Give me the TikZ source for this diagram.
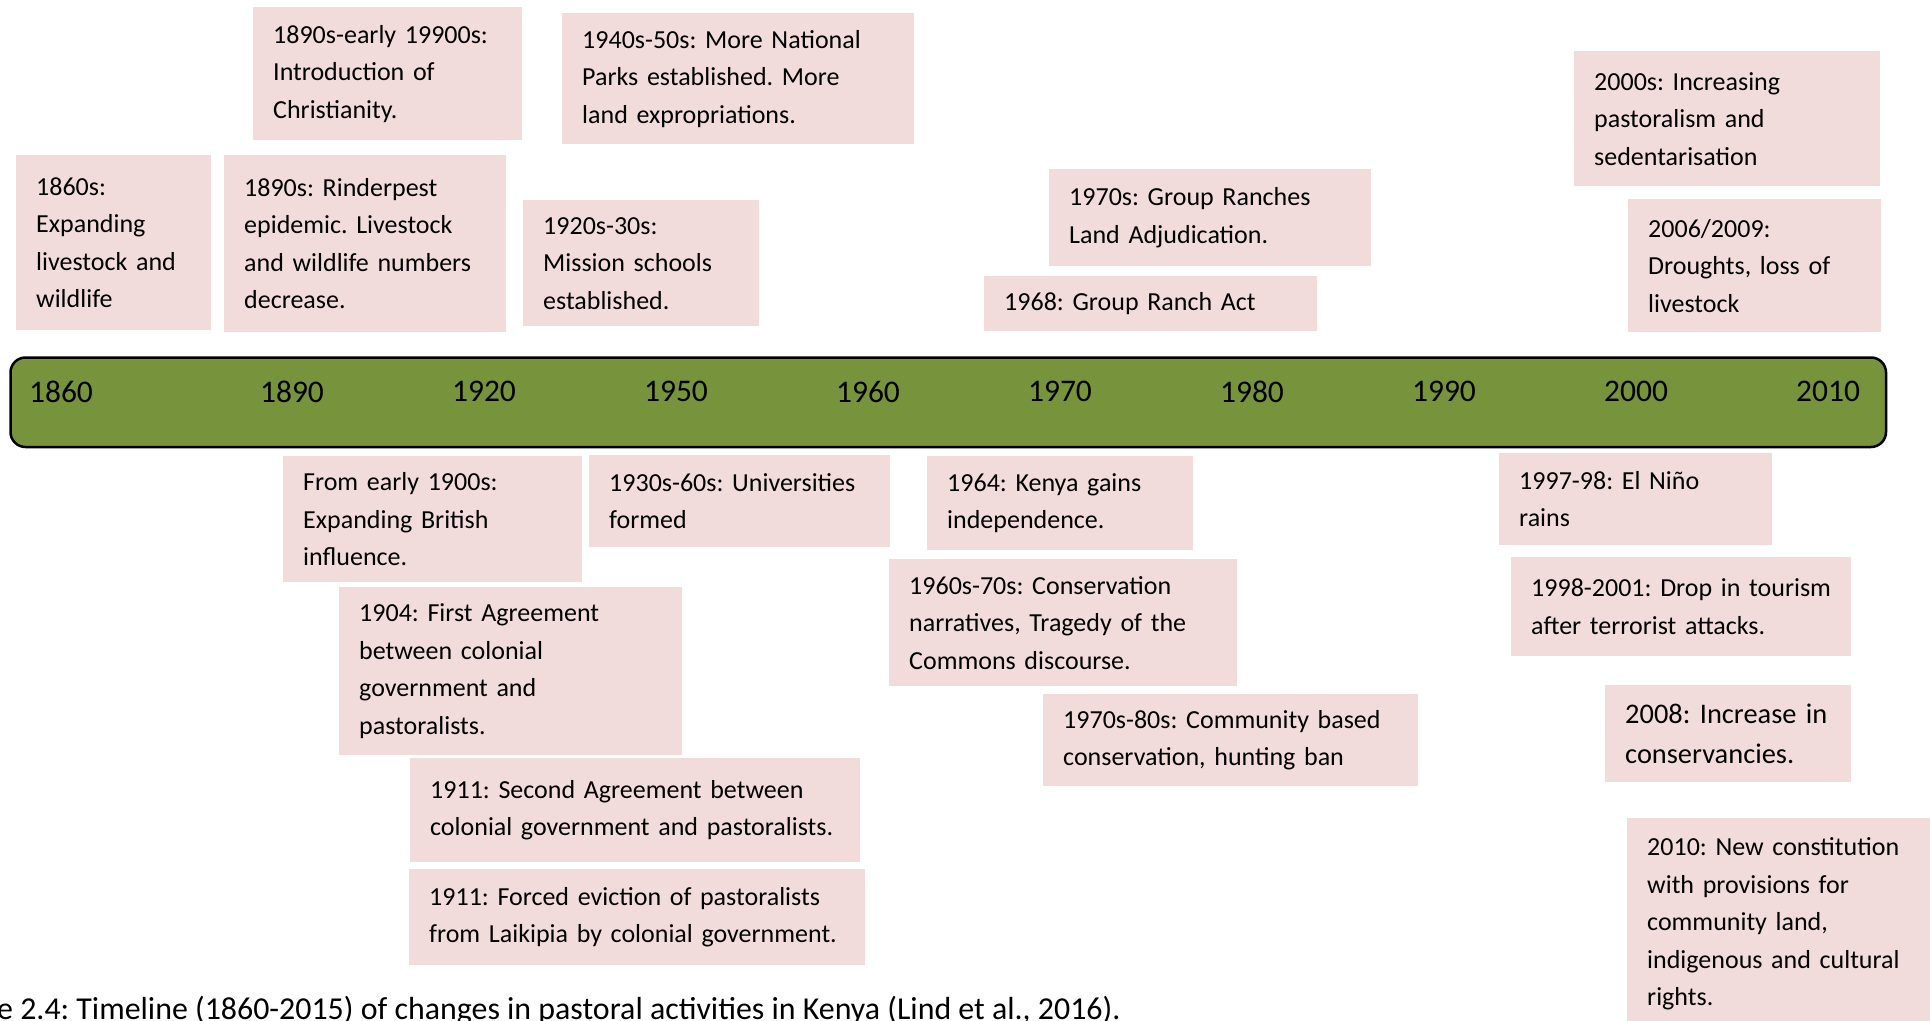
\documentclass[tikz,border=0pt]{standalone}
\usepackage{fontspec}
\setmainfont{Carlito}
\usetikzlibrary{positioning}
\frenchspacing
\hyphenpenalty=10000
\definecolor{eventpink}{HTML}{F2DCDB}
\definecolor{bargreen}{HTML}{77933C}
\tikzset{
  event/.style={fill=eventpink, anchor=north west, align=left, inner xsep=20pt, inner ysep=0pt,
                font=\fontsize{26pt}{37.5pt}\selectfont},
  bigevent/.style={event, font=\fontsize{28.4pt}{40.7pt}\selectfont},
  timebar/.style={draw=black, line width=2.5pt, fill=bargreen, rounded corners=15pt,
                  anchor=north west, inner sep=0pt},
  yearlabel/.style={font=\fontsize{31.5pt}{36pt}\selectfont, inner sep=0pt},
  caption/.style={font=\fontsize{31.9pt}{38pt}\selectfont, anchor=base west, inner sep=0pt},
}

\begin{document}
\begin{tikzpicture}[x=1pt,y=-1pt]
  \useasboundingbox (0,0) rectangle (1930,1020);
  \clip (0,0) rectangle (1930,1020);

  % the time bar
  \node[timebar, minimum width=1875.5pt, minimum height=89.5pt] (bar) at (9.25,356.25) {};
  \foreach \yr/\xx in {1860/61,1890/292,1920/484,1950/676,1960/868,1970/1060,1980/1252,1990/1444,2000/1636,2010/1828}
    \node[yearlabel] (yr\yr) at (\xx,391.5) {\yr};

  % events above the bar
  \node[event, minimum width=195pt, text width=155pt, minimum height=175pt] (ev1860) at (16,155) {1860s:\\Expanding\\livestock and\\wildlife};
  \node[event, minimum width=282pt, text width=242pt, minimum height=177pt] (ev1890r) at (224,155) {1890s: Rinderpest\\epidemic. Livestock\\and wildlife numbers\\decrease.};
  \node[event, minimum width=269pt, text width=229pt, minimum height=133pt] (ev1890c) at (253,7) {1890s-early 19900s:\\Introduction of\\Christianity.};
  \node[event, minimum width=352pt, text width=312pt, minimum height=131pt] (ev1940) at (562,13) {1940s-50s: More National\\Parks established. More\\land expropriations.};
  \node[event, minimum width=236pt, text width=196pt, minimum height=126pt] (ev1920) at (523,200) {1920s-30s:\\Mission schools\\established.};
  \node[event, minimum width=322pt, text width=282pt, minimum height=97pt] (ev1970g) at (1049,169) {1970s: Group Ranches\\Land Adjudication.};
  \node[event, minimum width=333pt, text width=293pt, minimum height=55pt] (ev1968) at (984,276) {1968: Group Ranch Act};
  \node[event, minimum width=306pt, text width=266pt, minimum height=135pt] (ev2000) at (1574,51) {2000s: Increasing\\pastoralism and\\sedentarisation};
  \node[event, minimum width=253pt, text width=213pt, minimum height=133pt] (ev2006) at (1628,199) {2006/2009:\\Droughts, loss of\\livestock};

  % events below the bar
  \node[event, minimum width=299pt, text width=259pt, minimum height=126pt] (ev1900) at (283,456) {From early 1900s:\\Expanding British\\influence.};
  \node[event, minimum width=301pt, text width=261pt, minimum height=92pt] (ev1930) at (589,455) {1930s-60s: Universities\\formed};
  \node[event, minimum width=266pt, text width=226pt, minimum height=94pt] (ev1964) at (927,456) {1964: Kenya gains\\independence.};
  \node[event, minimum width=348pt, text width=308pt, minimum height=127pt] (ev1960) at (889,559) {1960s-70s: Conservation\\narratives, Tragedy of the\\Commons discourse.};
  \node[event, minimum width=375pt, text width=335pt, minimum height=92pt] (ev1970c) at (1043,694) {1970s-80s: Community based\\conservation, hunting ban};
  \node[event, minimum width=343pt, text width=303pt, minimum height=168pt] (ev1904) at (339,587) {1904: First Agreement\\between colonial\\government and\\pastoralists.};
  \node[event, minimum width=450pt, text width=410pt, minimum height=104pt] (ev1911a) at (410,758) {1911: Second Agreement between\\colonial government and pastoralists.};
  \node[event, minimum width=456pt, text width=416pt, minimum height=96pt] (ev1911b) at (409,869) {1911: Forced eviction of pastoralists\\from Laikipia by colonial government.};
  \node[event, minimum width=273pt, text width=233pt, minimum height=92pt] (ev1997) at (1499,453) {1997-98: El Niño\\rains};
  \node[event, minimum width=340pt, text width=300pt, minimum height=99pt] (ev1998) at (1511,557) {1998-2001: Drop in tourism\\after terrorist attacks.};
  \node[bigevent, minimum width=246pt, text width=206pt, minimum height=97pt] (ev2008) at (1605,685) {2008: Increase in\\conservancies.};
  \node[event, minimum width=330pt, text width=290pt, minimum height=212pt] (ev2010) at (1627,818) {2010: New constitution\\with provisions for\\community land,\\indigenous and cultural\\rights.};

  % caption, cut by the page edge
  \node[caption] (cap) at (-3,1019) {e 2.4: Timeline (1860-2015) of changes in pastoral activities in Kenya (Lind et al., 2016).};
\end{tikzpicture}
\end{document}
